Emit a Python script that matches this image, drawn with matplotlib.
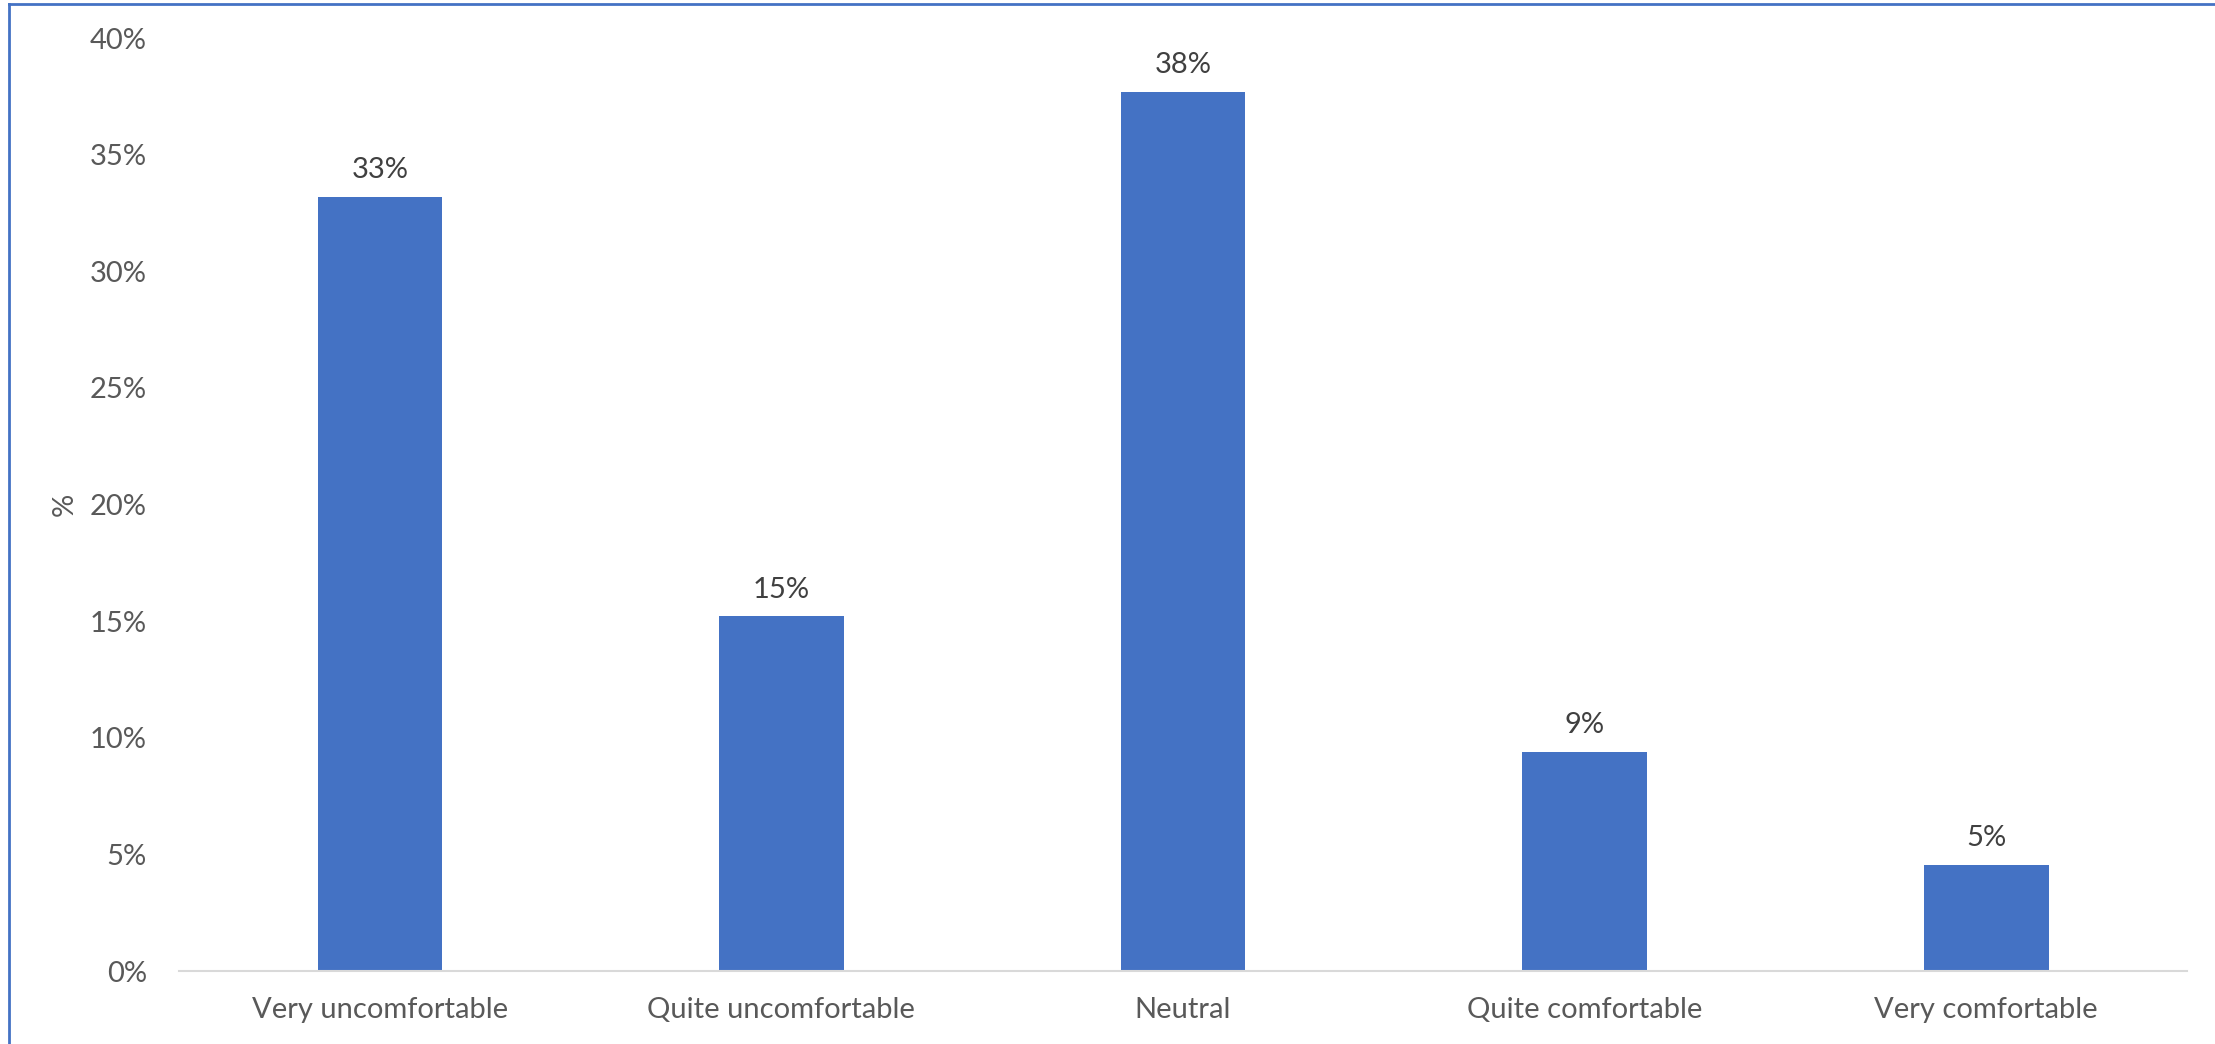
import matplotlib
matplotlib.use("Agg")
import matplotlib.pyplot as plt
from matplotlib.lines import Line2D
from matplotlib.ticker import FuncFormatter

# dados
categorias = ["Very uncomfortable", "Quite uncomfortable", "Neutral",
              "Quite comfortable", "Very comfortable"]
valores = [33.2, 15.2, 37.7, 9.4, 4.55]
yticks = [0, 5, 10, 15, 20, 25, 30, 35, 40]

azul = "#4472C4"
cinza = "#595959"
tam = 21

plt.rcParams['font.family'] = ['Lato', 'DejaVu Sans']

fig = plt.figure(figsize=(22.15, 10.44), dpi=100)
ax = fig.add_axes([0.0808, 0.0699, 0.9066, 0.8937])

x = range(len(categorias))
barras = ax.bar(x, valores, width=0.31, color=azul)
ax.bar_label(barras, labels=[f"{v:.0f}%" for v in valores], padding=10,
             fontsize=tam, color="#404040")

ax.set_xlim(-0.5, len(categorias) - 0.5)
ax.set_ylim(0, 40)
ax.set_yticks(yticks)
ax.yaxis.set_major_formatter(FuncFormatter(lambda v, p: f"{v:.0f}%"))
ax.set_xticks(list(x))
ax.set_xticklabels(categorias)
ax.tick_params(axis='y', length=0, pad=23, labelsize=tam, labelcolor=cinza)
ax.tick_params(axis='x', length=0, pad=19, labelsize=tam, labelcolor=cinza)
ax.text(-0.057, 0.5, "%", transform=ax.transAxes, rotation=90,
        ha='center', va='center', fontsize=tam, color=cinza)

for s in ["top", "right", "left"]:
    ax.spines[s].set_visible(False)
ax.spines["bottom"].set_color("#D9D9D9")
ax.spines["bottom"].set_linewidth(1.5)

# moldura azul (so topo e esquerda aparecem)
fig.add_artist(Line2D([9 / 2215, 9 / 2215], [0, 1 - 4 / 1044], color=azul, lw=2))
fig.add_artist(Line2D([9 / 2215, 1], [1 - 4 / 1044, 1 - 4 / 1044], color=azul, lw=2))

plt.savefig("out.png", dpi=100)
